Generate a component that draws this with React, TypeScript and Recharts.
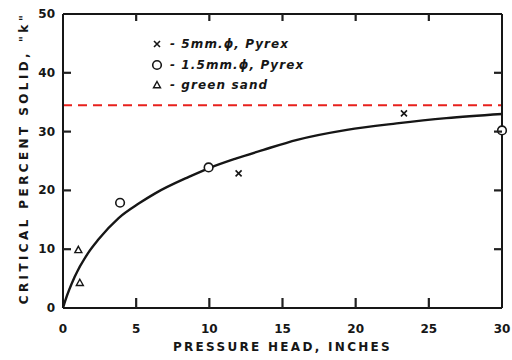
import React from 'react';
import { ComposedChart, Line, Scatter, XAxis, YAxis, ReferenceLine } from 'recharts';

const xTicks = [0, 5, 10, 15, 20, 25, 30];
const yTicks = [0, 10, 20, 30, 40, 50];

const pyrex5mm = [
  { x: 12.0, y: 22.9 },
  { x: 23.3, y: 33.1 },
];
const pyrex15mm = [
  { x: 3.9, y: 17.9 },
  { x: 9.95, y: 23.9 },
  { x: 30.0, y: 30.2 },
];
const greenSand = [
  { x: 1.05, y: 9.9 },
  { x: 1.15, y: 4.3 },
];

const curveX = [0, 0.15, 0.8, 1.7, 2.4, 3.8, 5.2, 6.3, 8.6, 10, 11.8, 13.7, 16, 19.4, 22.8, 26.2, 30];
const curveY = [0, 1.2, 5.3, 9.3, 11.6, 15.3, 17.8, 19.5, 22.3, 23.8, 25.4, 26.9, 28.6, 30.3, 31.4, 32.3, 33.0];
const curve = curveX.map((x, i) => ({ x, y: curveY[i] }));

const criticalLevel = 34.5;

const legendLabels = ['- 5mm.ϕ, Pyrex', '- 1.5mm.ϕ, Pyrex', '- green sand'];
const xTitle = 'PRESSURE  HEAD,  INCHES';
const yTitle = 'CRITICAL  PERCENT  SOLID,  "k"';

const X_MIN = xTicks[0];
const X_MAX = xTicks[xTicks.length - 1];
const Y_MIN = yTicks[0];
const Y_MAX = yTicks[yTicks.length - 1];

const INK = '#161616';
const TICK_INK = '#202020';
const FONT = '"DejaVu Sans", sans-serif';

// layout (pixels)
const PLOT_TOP = 14;
const PLOT_RIGHT = 502;

const Cross = (props: any) => {
  const { cx, cy } = props;
  const s = 3;
  return (
    <path d={`M${cx - s},${cy - s}L${cx + s},${cy + s}M${cx - s},${cy + s}L${cx + s},${cy - s}`} stroke={INK} strokeWidth={1.6} fill="none" />
  );
};
const Ring = (props: any) => {
  const { cx, cy } = props;
  return <circle cx={cx} cy={cy} r={4.3} stroke={INK} strokeWidth={1.6} fill="#fff" />;
};
const Tri = (props: any) => {
  const { cx, cy } = props;
  const s = 3.5;
  return <path d={`M${cx},${cy - s}L${cx + s},${cy + s * 0.8}L${cx - s},${cy + s * 0.8}Z`} stroke={INK} strokeWidth={1.4} fill="#fff" />;
};

const markerShapes = [Cross, Ring, Tri];

const LegendBox = () => (
  <div style={{ position: 'absolute', left: 151, top: 34, fontFamily: FONT, fontStyle: 'italic', fontWeight: 'bold', fontSize: 12, color: INK, letterSpacing: 1.1 }}>
    {legendLabels.map((lab, i) => {
      const Shape = markerShapes[i];
      return (
        <div key={lab} style={{ display: 'flex', alignItems: 'center', height: 20.5 }}>
          <svg width={12} height={12} style={{ marginRight: 7 }}>
            <Shape cx={6} cy={6} />
          </svg>
          <span>{lab}</span>
        </div>
      );
    })}
  </div>
);

const labelStyle = { fontFamily: FONT, fontWeight: 'bold' as const, fontSize: 12, fill: INK };

const BottomTick = (p: any) => {
  const x = Number(p.x);
  const y = Number(p.y);
  const axisY = y - 16;
  const v = p.payload.value;
  const inner = v !== X_MIN && v !== X_MAX;
  return (
    <g>
      {inner && <line x1={x} x2={x} y1={axisY} y2={axisY - 10} stroke={TICK_INK} strokeWidth={2.2} />}
      {inner && <line x1={x} x2={x} y1={PLOT_TOP} y2={PLOT_TOP + 7} stroke={TICK_INK} strokeWidth={2.2} />}
      <text x={x} y={y} textAnchor="middle" dominantBaseline="hanging" style={labelStyle}>{v}</text>
    </g>
  );
};
const LeftTick = (p: any) => {
  const x = Number(p.x);
  const y = Number(p.y);
  const axisX = x + 8;
  const v = p.payload.value;
  const inner = v !== Y_MIN && v !== Y_MAX;
  return (
    <g>
      {inner && <line x1={axisX} x2={axisX + 8} y1={y} y2={y} stroke={TICK_INK} strokeWidth={2.2} />}
      {inner && <line x1={PLOT_RIGHT} x2={PLOT_RIGHT - 8} y1={y} y2={y} stroke={TICK_INK} strokeWidth={2.2} />}
      <text x={x} y={y} textAnchor="end" dominantBaseline="central" style={labelStyle}>{v}</text>
    </g>
  );
};

export default function App() {
  return (
    <div style={{ position: 'absolute', left: 0, top: 0, width: 512, height: 360, background: '#fff' }}>
      <ComposedChart width={512} height={360} margin={{ top: 13, right: 8, bottom: 0, left: 0 }}>
        <XAxis
          xAxisId="b"
          dataKey="x"
          type="number"
          domain={[X_MIN, X_MAX]}
          ticks={xTicks}
          height={52}
          tickSize={0}
          tickMargin={16}
          tick={<BottomTick />}
          tickLine={false}
          axisLine={{ stroke: INK, strokeWidth: 2 }}
          label={{
            content: (p: any) => {
              const vb = p.viewBox;
              return (
                <text x={vb.x + vb.width / 2} y={vb.y + vb.height - 9} textAnchor="middle" style={{ fontFamily: FONT, fontWeight: 'bold', fontSize: 12, fill: INK, letterSpacing: 2.3 }}>
                  {xTitle}
                </text>
              );
            },
          }}
        />
        <XAxis
          xAxisId="t"
          dataKey="x"
          type="number"
          orientation="top"
          domain={[X_MIN, X_MAX]}
          ticks={xTicks}
          height={1}
          tick={false}
          tickLine={false}
          axisLine={{ stroke: INK, strokeWidth: 2 }}
        />
        <YAxis
          yAxisId="l"
          type="number"
          domain={[Y_MIN, Y_MAX]}
          ticks={yTicks}
          width={63}
          tickSize={0}
          tickMargin={8}
          tick={<LeftTick />}
          tickLine={false}
          axisLine={{ stroke: INK, strokeWidth: 2 }}
          label={{
            content: (p: any) => {
              const vb = p.viewBox;
              const cx = 24;
              const cy = vb.y + vb.height / 2 - 3;
              return (
                <text x={cx} y={cy} transform={`rotate(-90 ${cx} ${cy})`} textAnchor="middle" dominantBaseline="central" style={{ fontFamily: FONT, fontWeight: 'bold', fontSize: 12, fill: INK, letterSpacing: 3.4 }}>
                  {yTitle}
                </text>
              );
            },
          }}
        />
        <YAxis
          yAxisId="r"
          type="number"
          orientation="right"
          domain={[Y_MIN, Y_MAX]}
          ticks={yTicks}
          width={2}
          tick={false}
          tickLine={false}
          axisLine={{ stroke: INK, strokeWidth: 2 }}
        />
        <ReferenceLine xAxisId="b" yAxisId="l" y={criticalLevel} stroke="#e8201c" strokeWidth={2} strokeDasharray="9 6" />
        <Line xAxisId="b" yAxisId="l" data={curve} dataKey="y" type="monotone" dot={false} stroke={INK} strokeWidth={2.4} isAnimationActive={false} />
        <Scatter xAxisId="b" yAxisId="l" data={pyrex5mm} dataKey="y" shape={Cross} isAnimationActive={false} />
        <Scatter xAxisId="b" yAxisId="l" data={pyrex15mm} dataKey="y" shape={Ring} isAnimationActive={false} />
        <Scatter xAxisId="b" yAxisId="l" data={greenSand} dataKey="y" shape={Tri} isAnimationActive={false} />
      </ComposedChart>
      <LegendBox />
    </div>
  );
}
